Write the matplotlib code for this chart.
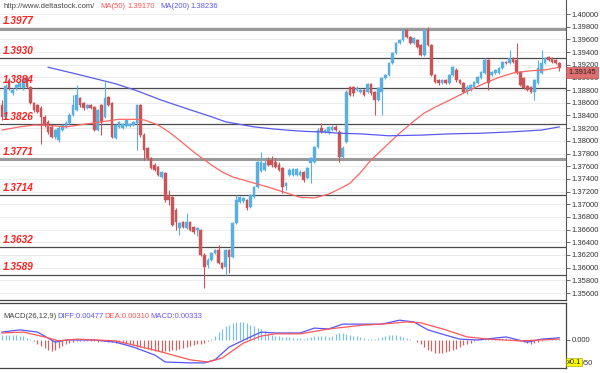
import matplotlib
matplotlib.use("Agg")
import matplotlib.pyplot as plt
import matplotlib.transforms as mtransforms
import numpy as np

# ---------------- data ----------------
opens = [
    1.3857, 1.3838, 1.3896, 1.3875, 1.3883, 1.3885, 1.3883, 1.3899, 1.3885, 1.3860,
    1.3857, 1.3852, 1.3838, 1.3830, 1.3822, 1.3806, 1.3801, 1.3817, 1.3822, 1.3828,
    1.3841, 1.3849, 1.3868, 1.3860, 1.3852, 1.3857, 1.3853, 1.3817, 1.3857, 1.3838,
    1.3869, 1.3860, 1.3804, 1.3822, 1.3820, 1.3823, 1.3823, 1.3825, 1.3828, 1.3857,
    1.3809, 1.3789, 1.3773, 1.3762, 1.3759, 1.3743, 1.3749, 1.3715, 1.3711, 1.3691,
    1.3663, 1.3672, 1.3663, 1.3672, 1.3664, 1.3659, 1.3659, 1.3620, 1.3604, 1.3612,
    1.3623, 1.3628, 1.3607, 1.3601, 1.3628, 1.3617, 1.3670, 1.3704, 1.3705, 1.3707,
    1.3696, 1.3711, 1.3727, 1.3752, 1.3754, 1.3770, 1.3770, 1.3767, 1.3762, 1.3757,
    1.3729, 1.3746, 1.3746, 1.3746, 1.3746, 1.3751, 1.3741, 1.3765, 1.3767, 1.3790,
    1.3820, 1.3814, 1.3812, 1.3817, 1.3822, 1.3814, 1.3774, 1.3798, 1.3885, 1.3885,
    1.3880, 1.3877, 1.3880, 1.3877, 1.3890, 1.3877, 1.3864, 1.3877, 1.3899, 1.3904,
    1.3923, 1.3938, 1.3954, 1.3959, 1.3975, 1.3964, 1.3954, 1.3959, 1.3951, 1.3935,
    1.3975, 1.3951, 1.3904, 1.3896, 1.3891, 1.3896, 1.3891, 1.3904, 1.3912, 1.3896,
    1.3891, 1.3877, 1.3880, 1.3885, 1.3891, 1.3899, 1.3907, 1.3927, 1.3904, 1.3907,
    1.3907, 1.3915, 1.3924, 1.3923, 1.3931, 1.3927, 1.3909, 1.3899, 1.3886, 1.3885,
    1.3877, 1.3891, 1.3907, 1.3923, 1.3932, 1.3931, 1.3927, 1.3923]
closes = [
    1.3838, 1.3886, 1.3883, 1.3880, 1.3888, 1.3891, 1.3899, 1.3885, 1.3860, 1.3849,
    1.3845, 1.3838, 1.3825, 1.3814, 1.3806, 1.3817, 1.3820, 1.3825, 1.3828, 1.3841,
    1.3857, 1.3872, 1.3857, 1.3852, 1.3857, 1.3852, 1.3817, 1.3849, 1.3830, 1.3868,
    1.3857, 1.3806, 1.3825, 1.3830, 1.3827, 1.3833, 1.3827, 1.3830, 1.3857, 1.3809,
    1.3786, 1.3773, 1.3757, 1.3754, 1.3746, 1.3751, 1.3707, 1.3707, 1.3667, 1.3672,
    1.3670, 1.3664, 1.3672, 1.3659, 1.3656, 1.3663, 1.3620, 1.3601, 1.3612, 1.3623,
    1.3628, 1.3607, 1.3599, 1.3628, 1.3617, 1.3670, 1.3707, 1.3711, 1.3710, 1.3694,
    1.3715, 1.3727, 1.3767, 1.3767, 1.3765, 1.3762, 1.3762, 1.3759, 1.3754, 1.3727,
    1.3733, 1.3754, 1.3756, 1.3756, 1.3751, 1.3738, 1.3757, 1.3773, 1.3790, 1.3817,
    1.3814, 1.3817, 1.3822, 1.3822, 1.3817, 1.3774, 1.3789, 1.3877, 1.3872, 1.3875,
    1.3883, 1.3880, 1.3872, 1.3890, 1.3875, 1.3864, 1.3883, 1.3899, 1.3904, 1.3923,
    1.3938, 1.3954, 1.3959, 1.3975, 1.3964, 1.3954, 1.3962, 1.3948, 1.3935, 1.3975,
    1.3951, 1.3904, 1.3893, 1.3891, 1.3896, 1.3891, 1.3904, 1.3916, 1.3896, 1.3891,
    1.3877, 1.3885, 1.3888, 1.3893, 1.3901, 1.3909, 1.3927, 1.3891, 1.3909, 1.3912,
    1.3915, 1.3924, 1.3923, 1.3931, 1.3924, 1.3907, 1.3888, 1.3883, 1.3880, 1.3877,
    1.3896, 1.3915, 1.3923, 1.3931, 1.3927, 1.3924, 1.3923, 1.39145]
highs = [
    1.3864, 1.3890, 1.3899, 1.3883, 1.3890, 1.3893, 1.3901, 1.3902, 1.3886, 1.3861,
    1.3858, 1.3855, 1.3841, 1.3833, 1.3825, 1.3819, 1.3823, 1.3827, 1.3831, 1.3844,
    1.3872, 1.3888, 1.3869, 1.3861, 1.3858, 1.3858, 1.3855, 1.3850, 1.3858, 1.3893,
    1.3871, 1.3861, 1.3827, 1.3831, 1.3828, 1.3834, 1.3828, 1.3831, 1.3858, 1.3858,
    1.3812, 1.3790, 1.3774, 1.3765, 1.3760, 1.3752, 1.3751, 1.3722, 1.3713, 1.3694,
    1.3672, 1.3674, 1.3686, 1.3674, 1.3666, 1.3664, 1.3661, 1.3623, 1.3615, 1.3625,
    1.3629, 1.3636, 1.3609, 1.3629, 1.3629, 1.3672, 1.3715, 1.3713, 1.3711, 1.3708,
    1.3716, 1.3729, 1.3768, 1.3782, 1.3773, 1.3774, 1.3776, 1.3773, 1.3767, 1.3759,
    1.3735, 1.3757, 1.3757, 1.3757, 1.3754, 1.3752, 1.3759, 1.3774, 1.3792, 1.3820,
    1.3828, 1.3819, 1.3823, 1.3825, 1.3825, 1.3817, 1.3792, 1.3880, 1.3886, 1.3886,
    1.3886, 1.3883, 1.3882, 1.3891, 1.3891, 1.3879, 1.3885, 1.3901, 1.3905, 1.3924,
    1.3940, 1.3956, 1.3961, 1.3978, 1.3976, 1.3965, 1.3964, 1.3961, 1.3953, 1.3976,
    1.3980, 1.3953, 1.3905, 1.3897, 1.3897, 1.3897, 1.3905, 1.3918, 1.3915, 1.3897,
    1.3893, 1.3888, 1.3890, 1.3894, 1.3902, 1.3910, 1.3931, 1.3929, 1.3910, 1.3913,
    1.3916, 1.3926, 1.3926, 1.3943, 1.3932, 1.3954, 1.3910, 1.3901, 1.3888, 1.3886,
    1.3897, 1.3927, 1.3943, 1.3932, 1.3934, 1.3932, 1.3929, 1.3924]
lows = [
    1.3833, 1.3836, 1.3880, 1.3872, 1.3880, 1.3883, 1.3880, 1.3883, 1.3858, 1.3845,
    1.3844, 1.3795, 1.3822, 1.3811, 1.3804, 1.3803, 1.3798, 1.3815, 1.3820, 1.3827,
    1.3839, 1.3847, 1.3853, 1.3849, 1.3850, 1.3850, 1.3815, 1.3815, 1.3809, 1.3836,
    1.3855, 1.3804, 1.3803, 1.3820, 1.3819, 1.3822, 1.3822, 1.3823, 1.3786, 1.3806,
    1.3770, 1.3770, 1.3756, 1.3752, 1.3745, 1.3741, 1.3704, 1.3699, 1.3666, 1.3659,
    1.3652, 1.3663, 1.3661, 1.3658, 1.3653, 1.3650, 1.3618, 1.3568, 1.3599, 1.3610,
    1.3622, 1.3606, 1.3598, 1.3588, 1.3592, 1.3615, 1.3669, 1.3702, 1.3702, 1.3691,
    1.3694, 1.3710, 1.3726, 1.3751, 1.3752, 1.3760, 1.3759, 1.3757, 1.3752, 1.3718,
    1.3722, 1.3745, 1.3745, 1.3745, 1.3745, 1.3735, 1.3740, 1.3733, 1.3765, 1.3789,
    1.3812, 1.3812, 1.3811, 1.3815, 1.3815, 1.3767, 1.3773, 1.3797, 1.3871, 1.3871,
    1.3879, 1.3875, 1.3871, 1.3875, 1.3872, 1.3841, 1.3863, 1.3841, 1.3897, 1.3902,
    1.3921, 1.3937, 1.3953, 1.3957, 1.3962, 1.3953, 1.3953, 1.3946, 1.3934, 1.3934,
    1.3950, 1.3902, 1.3891, 1.3888, 1.3890, 1.3890, 1.3890, 1.3902, 1.3893, 1.3890,
    1.3875, 1.3874, 1.3879, 1.3883, 1.3890, 1.3897, 1.3905, 1.3880, 1.3902, 1.3905,
    1.3905, 1.3913, 1.3921, 1.3921, 1.3923, 1.3905, 1.3886, 1.3882, 1.3879, 1.3875,
    1.3864, 1.3890, 1.3905, 1.3921, 1.3926, 1.3923, 1.3921, 1.3910]

ma50_idx = [0, 5, 9, 14, 18, 23, 28, 33, 37, 40, 44, 47, 50, 53, 56, 59, 62, 65,
            70, 75, 80, 84, 88, 92, 95, 98, 101, 104, 108, 112, 116, 119, 122,
            126, 131, 136, 140, 144, 148, 153, 157]
ma50_val = [1.3817, 1.3822, 1.3825, 1.3824, 1.3822, 1.3826, 1.3830, 1.3834,
            1.3834, 1.3833, 1.3825, 1.3814, 1.3801, 1.3787, 1.3774, 1.3762,
            1.3751, 1.3743, 1.3735, 1.3727, 1.3718, 1.3711, 1.3710, 1.3716,
            1.3724, 1.3733, 1.3750, 1.3770, 1.3791, 1.3812, 1.3831, 1.3844,
            1.3853, 1.3864, 1.3878, 1.3891, 1.3900, 1.3907, 1.3910, 1.3912, 1.3916]
ma200_idx = [13, 22, 32, 38, 45, 53, 59, 63, 67, 71, 76, 80, 85, 90, 95, 101,
             109, 118, 126, 135, 143, 152, 157]
ma200_val = [1.3916, 1.3904, 1.3890, 1.3879, 1.3864, 1.3849, 1.3838, 1.3830,
             1.3826, 1.3822, 1.3819, 1.3817, 1.3815, 1.3814, 1.3812, 1.3811,
             1.3808, 1.3809, 1.3811, 1.3812, 1.3814, 1.3817, 1.3822]

levels = [1.3977, 1.3930, 1.3884, 1.3826, 1.3771, 1.3714, 1.3632, 1.3589]
level_labels = ["1.3977", "1.3930", "1.3884", "1.3826", "1.3771", "1.3714",
                "1.3632", "1.3589"]
level_major = [True, False, False, False, True, False, False, False]

diff_idx = [0, 5, 10, 15, 18, 26, 32, 37, 43, 46, 53, 57, 60, 64, 70, 73, 77,
            84, 88, 92, 96, 107, 112, 116, 120, 125, 129, 134, 142, 148, 152, 157]
diff_val = [0.018, 0.023, 0.018, -0.005, 0.000, 0.000, -0.005, -0.016, -0.034,
            -0.050, -0.052, -0.052, -0.045, -0.016, 0.007, 0.018, 0.016, 0.016,
            0.027, 0.025, 0.036, 0.036, 0.045, 0.041, 0.023, 0.011, 0.002, 0.000,
            0.007, -0.005, 0.002, 0.005]
dea_idx = [0, 6, 12, 16, 21, 32, 43, 53, 58, 62, 68, 73, 77, 84, 92, 102, 107,
           114, 118, 125, 131, 137, 146, 157]
dea_val = [0.016, 0.018, 0.007, -0.002, 0.002, -0.002, -0.023, -0.045, -0.050,
           -0.041, -0.007, 0.009, 0.014, 0.014, 0.025, 0.034, 0.036, 0.041,
           0.039, 0.023, 0.007, 0.002, -0.002, 0.002]
hist = [
    0.011, 0.012, 0.012, 0.012, 0.011, 0.010, 0.008,
    0.005, 0.002, -0.002,
    -0.008, -0.014, -0.018, -0.022, -0.024, -0.022, -0.018,
    -0.014, -0.010, -0.007, -0.005, -0.003, -0.002,
    -0.002, -0.003, -0.002, -0.003, -0.004, -0.003, -0.002, -0.004,
    -0.005, -0.006, -0.005, -0.007, -0.008,
    -0.010, -0.012, -0.015, -0.017, -0.019, -0.021, -0.023, -0.025, -0.026, -0.027, -0.026,
    -0.025, -0.023, -0.022, -0.020, -0.018, -0.016, -0.014, -0.012, -0.010, -0.008, -0.006, -0.003,
    0.002, 0.008,
    0.018, 0.026, 0.031, 0.035, 0.038, 0.040, 0.041, 0.040, 0.038, 0.035, 0.032, 0.028, 0.024, 0.020, 0.016,
    0.012, 0.010, 0.008, 0.007, 0.006, 0.006, 0.005, 0.004, 0.004, 0.003, 0.004,
    0.006, 0.008, 0.009, 0.010, 0.008, 0.006, 0.010, 0.013, 0.015, 0.016,
    0.014, 0.012, 0.010, 0.008, 0.006, 0.004, 0.003, 0.002, 0.002, 0.004,
    0.006, 0.009, 0.011, 0.012, 0.011, 0.010, 0.007, 0.004, 0.002, 0.001,
    -0.004, -0.010, -0.016, -0.022, -0.026, -0.029, -0.030, -0.029, -0.028, -0.026,
    -0.023, -0.020, -0.016, -0.012, -0.009, -0.006, -0.003, -0.001,
    0.002, 0.003, 0.004, 0.004, 0.003, 0.004, 0.005, 0.004, 0.003, 0.002, 0.000,
    -0.003, -0.005, -0.007, -0.008, -0.007, -0.005, -0.002,
    0.001, 0.002, 0.003, 0.003, 0.002]

last_price = 1.39145
price_ticks = [1.356 + 0.002 * k for k in range(23)]

# ---------------- figure ----------------
W, H = 600, 373
fig = plt.figure(figsize=(W / 100, H / 100), dpi=100)
fig.patch.set_facecolor("white")


def box(x0, y0, x1, y1):
    return [x0 / W, 1 - y1 / H, (x1 - x0) / W, (y1 - y0) / H]


UP = "#5aafe2"
DN = "#c85557"
AX = "#555555"
FONT = ["Liberation Sans", "DejaVu Sans"]
TS = 5.5

ax = fig.add_axes(box(0, 0, 566, 300))
ax2 = fig.add_axes(box(0, 303, 566, 368))

n = len(closes)
x = np.arange(n)
o = np.array(opens); c = np.array(closes)
h = np.array(highs); l = np.array(lows)
up = c >= o
cols = np.where(up, UP, DN)

# grid
for t in price_ticks:
    ax.axhline(t, color="#ececec", lw=0.7, zorder=0)

blend = mtransforms.blended_transform_factory(ax.transAxes, ax.transData)
# support/resistance lines
for lv, lab, major in zip(levels, level_labels, level_major):
    if major:
        ax.axhline(lv, color="#9a9a9a", lw=2.2, zorder=1)
    else:
        ax.axhline(lv, color="#4a4a4a", lw=0.9, zorder=1)
    ax.text(0.005, lv + 0.00035, lab, transform=blend,
            color="#ff2020", fontsize=7.2, fontweight="bold", style="italic",
            family=FONT, va="bottom", ha="left", zorder=5)

# candles
ax.vlines(x, l, h, colors=cols, lw=0.8, zorder=2)
ax.bar(x, np.abs(c - o), bottom=np.minimum(o, c), width=0.75, color=cols,
       edgecolor=cols, linewidth=0.3, zorder=3)

# moving averages
ax.plot(ma50_idx, ma50_val, color="#ff6464", lw=0.9, zorder=4)
ax.plot(ma200_idx, ma200_val, color="#5a5aee", lw=0.9, zorder=4)

ax.set_xlim(-0.56, 158.9)
ax.set_ylim(1.35490, 1.40221)
ax.yaxis.tick_right()
ax.set_yticks(price_ticks)
ax.set_yticklabels([f"{t:.5f}" for t in price_ticks],
                   family=FONT, fontsize=TS, color="#333333")
ax.tick_params(axis="y", length=3, width=0.6, color=AX, pad=1)
ax.set_xticks([])
for s in ["top", "left"]:
    ax.spines[s].set_visible(False)
ax.spines["right"].set_color(AX)
ax.spines["right"].set_linewidth(0.8)
ax.spines["bottom"].set_color("#444444")
ax.spines["bottom"].set_linewidth(0.9)

# current price box (covers the 1.39000 label, as in the original)
ax.text(1.004, last_price - 0.00012, f"{last_price:.5f}", transform=blend,
        fontsize=TS, family=FONT, color="#222222", va="top", ha="left", clip_on=False,
        bbox=dict(boxstyle="square,pad=0.25", facecolor="#e07070", edgecolor="#c05050", lw=0.5),
        zorder=10)

# header texts
hy = 1 - 6 / H
fig.text(3 / W, hy, "http://www.deltastock.com/", fontsize=TS, family=FONT,
         color="#444444", va="center", ha="left")
fig.text(100 / W, hy, "MA(50)", fontsize=TS, family=FONT, color="#ff5555", va="center")
fig.text(127 / W, hy, "1.39170", fontsize=TS, family=FONT, color="#ff5555", va="center")
fig.text(160 / W, hy, "MA(200)", fontsize=TS, family=FONT, color="#5a5aee", va="center")
fig.text(190 / W, hy, "1.38236", fontsize=TS, family=FONT, color="#5a5aee", va="center")

# ---------------- MACD panel ----------------
hv = np.array(hist)
hx = np.arange(len(hv))
hcols = np.where(hv >= 0, "#7cc0e6", "#cc6666")
ax2.vlines(hx, 0, hv, colors=hcols, lw=0.9, zorder=2)
ax2.plot(diff_idx, diff_val, color="#5555ff", lw=0.9, zorder=3)
ax2.plot(dea_idx, dea_val, color="#ff5555", lw=0.9, zorder=3)
ax2.set_xlim(-0.56, 158.9)
ax2.set_ylim(-0.0636, 0.084)
ax2.yaxis.tick_right()
ax2.set_yticks([0.0, -0.05])
ax2.set_yticklabels(["0.000", "-0.050"], family=FONT, fontsize=TS, color="#333333")
ax2.tick_params(axis="y", length=3, width=0.6, color=AX, pad=1)
ax2.set_xticks([])
for s in ["top", "bottom", "left", "right"]:
    ax2.spines[s].set_color("#444444")
    ax2.spines[s].set_linewidth(0.9)
ax2.spines["left"].set_visible(False)

blend2 = mtransforms.blended_transform_factory(ax2.transAxes, ax2.transData)
ax2.text(1.002, -0.05, "x0.1", transform=blend2,
         fontsize=TS, family=FONT, color="#222222", va="center", ha="left", clip_on=False,
         bbox=dict(boxstyle="square,pad=0.12", facecolor="#ffff00", edgecolor="#999900", lw=0.4),
         zorder=10)

ty = 1 - 316 / H
fig.text(3 / W, ty, "MACD(26,12,9)", fontsize=TS, family=FONT, color="#444444", va="center")
fig.text(57 / W, ty, "DIFF:0.00477", fontsize=TS, family=FONT, color="#5555ff", va="center")
fig.text(104 / W, ty, "DEA:0.00310", fontsize=TS, family=FONT, color="#ff5555", va="center")
fig.text(150 / W, ty, "MACD:0.00333", fontsize=TS, family=FONT, color="#6a5aee", va="center")

fig.savefig("out.png", dpi=100, facecolor="white")
